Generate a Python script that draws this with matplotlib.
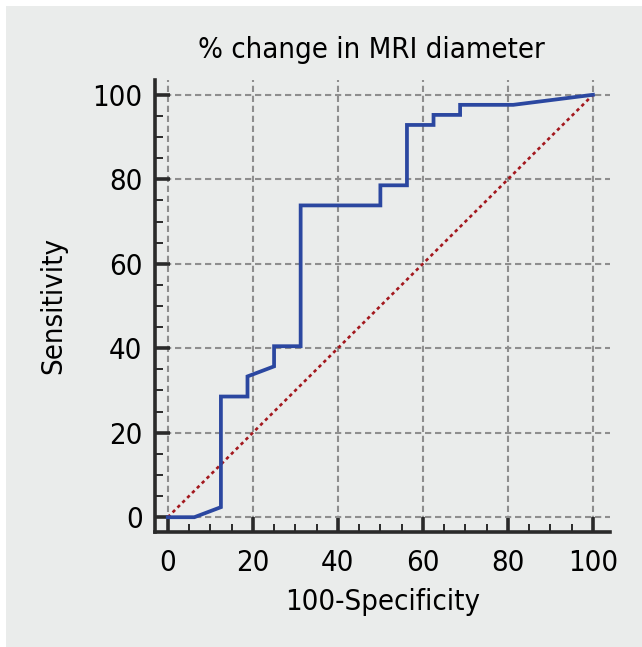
import numpy as np
import matplotlib
matplotlib.use('Agg')
import matplotlib.pyplot as plt
from matplotlib.patches import Rectangle
from matplotlib.ticker import MultipleLocator
from matplotlib import font_manager

# ROC curve points (100-Specificity, Sensitivity)
fpr = [0, 6.25, 12.5, 12.5, 18.75, 18.75, 25, 25, 31.25, 31.25, 50, 50,
       56.25, 56.25, 62.5, 62.5, 68.75, 68.75, 81.25, 100]
tpr = [0, 0, 2.38, 28.57, 28.57, 33.33, 35.71, 40.48, 40.48, 73.81, 73.81, 78.57,
       78.57, 92.86, 92.86, 95.24, 95.24, 97.62, 97.62, 100]
diag = [0, 100]

title = '% change in MRI diameter'
xlabel = '100-Specificity'
ylabel = 'Sensitivity'

BG = '#eaeceb'
C_ROC = '#2b47a0'
C_DIAG = '#a3181e'
C_GRID = '#8e8e8e'
C_AX = '#2a2a2a'

# pick a condensed face if one is installed
cond = [f for f in font_manager.fontManager.ttflist
        if 'ondensed' in f.fname or 'arrow' in f.fname]
cond = [f for f in cond if f.weight in (400, 'normal', 'regular') and f.style == 'normal'] or cond
if cond:
    fam = cond[0].name
    stretch = cond[0].stretch
else:
    fam = 'DejaVu Sans'
    stretch = 'normal'
plt.rcParams['font.family'] = [fam, 'DejaVu Sans']
plt.rcParams['font.stretch'] = stretch

fig = plt.figure(figsize=(6.42, 6.47), dpi=100)
fig.patch.set_facecolor('white')
fig.patches.append(Rectangle((6 / 642, 0), 1, 641 / 647, transform=fig.transFigure,
                             facecolor=BG, edgecolor='none', zorder=-10))

ax = fig.add_axes([155 / 642, 1 - 532 / 647, 455 / 642, 452 / 647])
ax.set_facecolor(BG)

ax.plot(diag, diag, color=C_DIAG, lw=1.9, ls=(0, (1.3, 1.3)), zorder=3)
ax.plot(fpr, tpr, color=C_ROC, lw=2.7, solid_joinstyle='miter', zorder=4)

ax.set_xlim(-3, 104)
ax.set_ylim(-3.5, 103.5)
ax.xaxis.set_major_locator(MultipleLocator(20))
ax.yaxis.set_major_locator(MultipleLocator(20))
ax.xaxis.set_minor_locator(MultipleLocator(5))
ax.yaxis.set_minor_locator(MultipleLocator(5))

ax.grid(True, which='major', color=C_GRID, ls=(0, (3, 1.8)), lw=1.5, zorder=1)
ax.set_axisbelow(True)

for s in ('top', 'right'):
    ax.spines[s].set_visible(False)
for s in ('left', 'bottom'):
    ax.spines[s].set_linewidth(2.6)
    ax.spines[s].set_color(C_AX)

ax.tick_params(which='major', direction='in', length=11, width=2.6, color=C_AX,
               labelsize=21, pad=9)
ax.tick_params(which='minor', direction='in', length=6, width=1.4, color=C_AX)
ax.tick_params(axis='x', which='major', pad=12)

ax.set_title(title, fontsize=21, pad=16, x=0.476)
ax.set_xlabel(xlabel, fontsize=21, labelpad=8)
ax.set_ylabel(ylabel, fontsize=21, labelpad=18)

fig.savefig('out.png', dpi=100, facecolor=fig.get_facecolor())
